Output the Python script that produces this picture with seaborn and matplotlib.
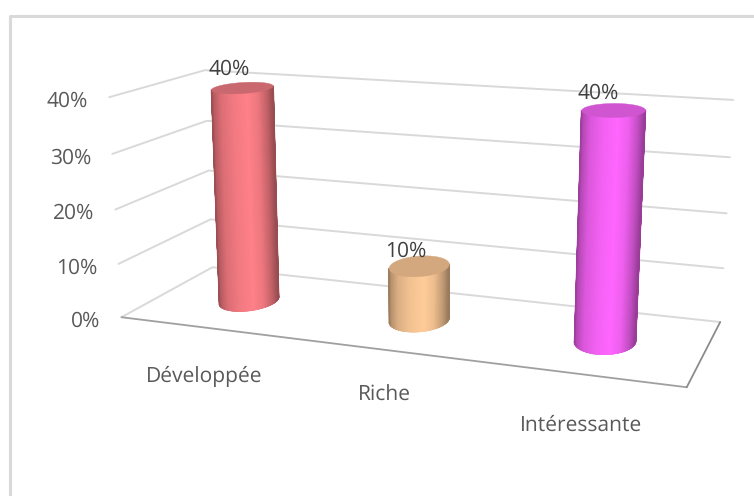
import numpy as np
import pandas as pd
import matplotlib
matplotlib.use("Agg")
import matplotlib.pyplot as plt
from matplotlib.transforms import Transform
from matplotlib.patches import Polygon
from matplotlib.collections import LineCollection
from matplotlib.colors import LinearSegmentedColormap, to_rgb
import seaborn as sns

categories = ["Développée", "Riche", "Intéressante"]
values = [40, 10, 40]
value_labels = ["40%", "10%", "40%"]
ticks = [0, 10, 20, 30, 40]
tick_labels = ["0%", "10%", "20%", "30%", "40%"]
bright = ["#FF8088", "#FFCC99", "#FF66FF"]
caps = ["#C9696F", "#D3A87E", "#D055D0"]

W, H = 754, 496
sns.set_theme(style="white")
plt.rcParams["font.family"] = ["Open Sans", "DejaVu Sans"]
plt.rcParams["text.hinting"] = "no_hinting"
plt.rcParams["text.hinting_factor"] = 1

# Perspective of the 3D box, calibrated on the box corners: (category pos, depth, value) -> pixel
calib = [
    (0, 0, 0, 122, 317), (3, 0, 0, 687, 387), (0, 1, 0, 212, 268), (3, 1, 0, 720, 322),
    (0, 0, 10, 118.5, 264), (0, 0, 20, 115, 209), (0, 0, 30, 112, 154), (0, 0, 40, 109, 98),
    (0, 1, 10, 210.5, 219), (0, 1, 20, 209, 170), (0, 1, 30, 207, 121), (0, 1, 40, 205, 70),
    (3, 1, 10, 723, 269), (3, 1, 20, 727, 213), (3, 1, 30, 730, 157), (3, 1, 40, 733, 100),
]
A = []
for X, Z, V, px, py in calib:
    A.append([X, Z, V / 40, 1, 0, 0, 0, 0, -px * X, -px * Z, -px * V / 40, -px])
    A.append([0, 0, 0, 0, X, Z, V / 40, 1, -py * X, -py * Z, -py * V / 40, -py])
P = np.linalg.svd(np.array(A, float))[2][-1].reshape(3, 4)


def project(X, Z, V):
    X, Z, V = np.broadcast_arrays(np.asarray(X, float), np.asarray(Z, float), np.asarray(V, float))
    q = np.stack([X, Z, V / 40, np.ones_like(X)], axis=-1) @ P.T
    return q[..., :2] / q[..., 2:]


class BarPlane(Transform):
    """Maps seaborn bar coordinates (category index, value) on the mid-depth plane."""
    input_dims = output_dims = 2
    is_affine = False

    def transform_non_affine(self, xy):
        xy = np.asarray(xy)
        return project(xy[:, 0] + 0.5, 0.5, xy[:, 1])


fig = plt.figure(figsize=(W / 100, H / 100), dpi=100, facecolor="white")
ax = fig.add_axes([0, 0, 1, 1])
ax.set_xlim(0, W)
ax.set_ylim(H, 0)
ax.axis("off")
ax.set_zorder(2)
ax_bars = fig.add_axes([0, 0, 1, 1], frameon=False)
ax_bars.set_zorder(3)

# frame
ax.plot([9.5, 9.5, W], [H, 16, 16], color="#D9D9D9", lw=2.2, solid_capstyle="butt", zorder=1)

# gridlines on side and back walls
for t in ticks:
    a, b, c = project(0, 0, t), project(0, 1, t), project(3, 1, t)
    ax.plot([a[0], b[0], c[0]], [a[1], b[1], c[1]], color="#D9D9D9", lw=1.4, zorder=2,
            solid_joinstyle="miter")
# floor front edges
f1, f2, f3 = project(0, 0, 0), project(3, 0, 0), project(3, 1, 0)
ax.plot([f1[0], f2[0]], [f1[1], f2[1]], color="#A0A0A0", lw=1.3, zorder=2)
ax.plot([f2[0], f3[0]], [f2[1], f3[1]], color="#8C8C8C", lw=1.3, zorder=2)

# bars through seaborn
df = pd.DataFrame({"cat": categories, "val": values})
BAR_W = 0.30
sns.barplot(data=df, x="cat", y="val", hue="cat", palette=bright, legend=False,
            width=BAR_W, ax=ax_bars, saturation=1, dodge=False)
ax_bars.axis("off")
proj_tr = BarPlane() + ax.transData
for patch in ax_bars.patches:
    patch.set_transform(proj_tr)
    patch.set_clip_on(False)
    patch.set_zorder(3)

# cylinder shading on top of each bar (in a layer above the bar axes)
ax_top = fig.add_axes([0, 0, 1, 1], frameon=False)
ax_top.set_xlim(0, W)
ax_top.set_ylim(H, 0)
ax_top.axis("off")
ax_top.set_zorder(4)

R = BAR_W / 2
RZ = 0.20
N = 161
shade_u = [-1.0, -0.92, -0.7, -0.3, 0.15, 0.5, 0.8, 1.0]
shade_v = [0.62, 0.72, 0.86, 0.95, 1.0, 0.93, 0.76, 0.60]
tt = np.linspace(0, 1, N)
shade = np.interp(-np.cos(np.pi * tt), shade_u, shade_v)
theta = np.linspace(0, 2 * np.pi, 1441)[:-1]


def front_arc(cx, v):
    """Visible lower half of the projected circle, from its screen-left to its screen-right point."""
    ring = project(cx + R * np.cos(theta), 0.5 + RZ * np.sin(theta), v)
    start = int(np.argmin(ring[:, 0]))
    ring = np.roll(ring, -start, axis=0)
    stop = int(np.argmax(ring[:, 0]))
    arc_a, arc_b = ring[:stop + 1], np.vstack([ring[stop:], ring[:1]])[::-1]
    arc = arc_a if arc_a[:, 1].mean() > arc_b[:, 1].mean() else arc_b
    idx = tt * (len(arc) - 1)
    grid = np.arange(len(arc))
    return np.column_stack([np.interp(idx, grid, arc[:, 0]), np.interp(idx, grid, arc[:, 1])])


for i, (v, col, cap) in enumerate(zip(values, bright, caps)):
    base = np.array(to_rgb(col))
    cx = i + 0.5
    low, top = front_arc(cx, 0), front_arc(cx, v)
    cmap = LinearSegmentedColormap.from_list(f"cyl{i}", [base * 0.55, base])
    mx = np.vstack([low[:, 0], top[:, 0]])
    my = np.vstack([low[:, 1], top[:, 1]])
    ax_top.pcolormesh(mx, my, np.vstack([shade, shade]), cmap=cmap, vmin=0.55, vmax=1.0,
                      shading="gouraud", zorder=4)
    # smooth the silhouette with antialiased strokes in the local shade
    segs = [np.array([low[j], low[j + 1]]) for j in range(N - 1)]
    cols = [base * s for s in shade[:-1]]
    segs += [np.array([low[0], top[0]]), np.array([low[-1], top[-1]])]
    cols += [base * shade[0], base * shade[-1]]
    ax_top.add_collection(LineCollection(segs, colors=cols, linewidths=1.1, zorder=4.5,
                                         capstyle="round"))
    ring = project(cx + R * np.cos(theta), 0.5 + RZ * np.sin(theta), v)
    ax_top.add_patch(Polygon(ring, closed=True, facecolor=cap, edgecolor=cap, lw=0.3, zorder=5))

ax_top.set_xlim(0, W)
ax_top.set_ylim(H, 0)

# text
txt = dict(fontsize=14.8, family=["Open Sans", "DejaVu Sans"])
for t, lab in zip(ticks, tick_labels):
    p = project(0, 0, t)
    ax_top.text(p[0] - 21, p[1] + 4, lab, ha="right", va="center", color="#595959", **txt)
offsets_cat = [(-1, 49), (0, 46), (0, 51)]
for i, lab in enumerate(categories):
    p = project(i + 0.5, 0, 0)
    ax_top.text(p[0] + offsets_cat[i][0], p[1] + offsets_cat[i][1], lab, ha="center", va="center",
                color="#595959", **txt)
offsets_val = [(-13, -19), (-14, -15), (-15, -17)]
for i, (v, lab) in enumerate(zip(values, value_labels)):
    p = project(i + 0.5, 0.5, v)
    ax_top.text(p[0] + offsets_val[i][0], p[1] + offsets_val[i][1], lab, ha="center", va="center",
                color="#404040", zorder=6, **txt)

fig.savefig("out.png", dpi=100)
